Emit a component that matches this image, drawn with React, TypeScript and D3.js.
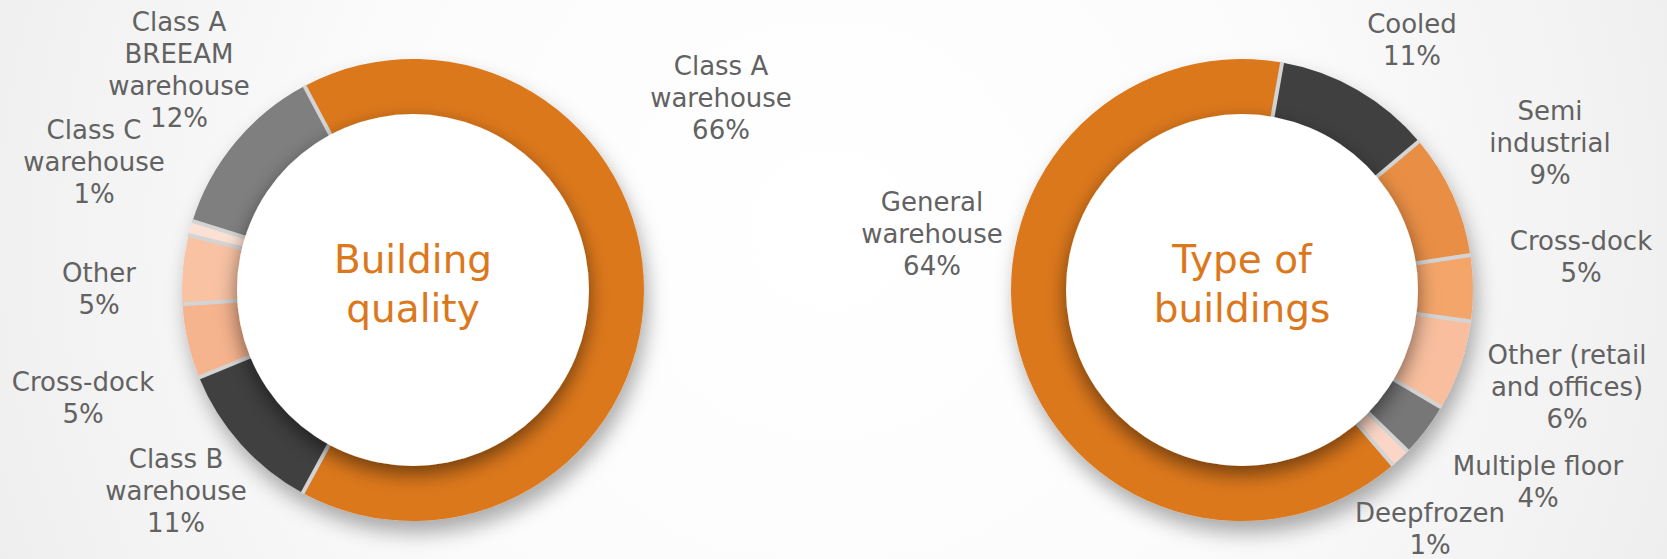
import React from 'react';
import * as d3 from 'd3';

// ---------- DATA ----------
const qualityCategories = ['Class A warehouse', 'Class B warehouse', 'Cross-dock', 'Other', 'Class C warehouse', 'Class A BREEAM warehouse'];
const qualityValues = [65.7, 10.9, 5.2, 4.8, 1.0, 12.4];
const qualityPercentLabels = ['66%', '11%', '5%', '5%', '1%', '12%'];
const qualityNameLines = [['Class A', 'warehouse'], ['Class B', 'warehouse'], ['Cross-dock'], ['Other'], ['Class C', 'warehouse'], ['Class A', 'BREEAM', 'warehouse']];

const typeCategories = ['Cooled', 'Semi industrial', 'Cross-dock', 'Other (retail and offices)', 'Multiple floor', 'Deepfrozen', 'General warehouse'];
const typeValues = [11.1, 8.7, 4.6, 6.3, 3.8, 1.4, 64.1];
const typePercentLabels = ['11%', '9%', '5%', '6%', '4%', '1%', '64%'];
const typeNameLines = [['Cooled'], ['Semi', 'industrial'], ['Cross-dock'], ['Other (retail', 'and offices)'], ['Multiple floor'], ['Deepfrozen'], ['General', 'warehouse']];

// ---------- STYLE / LAYOUT ----------
const W = 1667;
const H = 559;
const R_OUT = 231;
const R_IN = 175;
const LINE_H = 32;
const ORANGE = '#DC781C';
const TEXT = '#626262';
const FONT = "'DejaVu Sans', sans-serif";

const qualityColors = ['#DC781C', '#404040', '#F5B38E', '#F8C2A3', '#FBE1D3', '#7F7F7F'];
const typeColors = ['#404040', '#E98E44', '#F4A56B', '#F8BE9E', '#777777', '#FBD6C6', '#DC781C'];

const qualityLabelPos: [number, number][] = [[721, 75], [176, 468], [83, 391], [99, 282], [94, 139], [179, 31]];
const typeLabelPos: [number, number][] = [[1412, 33], [1550, 120], [1581, 250], [1567, 364], [1538, 475], [1430, 522], [932, 211]];

type DonutProps = {
  id: string;
  cx: number;
  cy: number;
  values: number[];
  colors: string[];
  startDeg: number;
  title: string[];
  names: string[][];
  percents: string[];
  pos: [number, number][];
};

function Donut({ id, cx, cy, values, colors, startDeg, title, names, percents, pos }: DonutProps) {
  const a0 = (startDeg * Math.PI) / 180;
  const pie = d3.pie<number>().sort(null).value((d) => d).startAngle(a0).endAngle(a0 + 2 * Math.PI);
  const arcs = pie(values);
  const arc = d3.arc<d3.PieArcDatum<number>>().innerRadius(R_IN).outerRadius(R_OUT);
  return (
    <g>
      <g transform={`translate(${cx},${cy})`}>
        <g filter={`url(#ringShadow)`}>
          {arcs.map((a, i) => (
            <path key={i} d={arc(a) || ''} fill={colors[i]} />
          ))}
        </g>
        {arcs.map((a, i) => {
          const s = Math.sin(a.startAngle);
          const c = -Math.cos(a.startAngle);
          return (
            <line key={'sep' + i} x1={s * (R_IN - 2)} y1={c * (R_IN - 2)} x2={s * (R_OUT + 0.5)} y2={c * (R_OUT + 0.5)} stroke="#D4D4D4" strokeWidth={4} />
          );
        })}
        <circle r={R_IN + 1} fill="#ffffff" filter="url(#innerShadow)" />
        {title.map((t, i) => (
          <text key={'t' + i} x={0} y={i === 0 ? -17 : 32} textAnchor="middle" fontFamily={FONT} fontSize={39} fill={ORANGE}>
            {t}
          </text>
        ))}
      </g>
      {names.map((lines, i) => {
        const [x, y] = pos[i];
        const all = [...lines, percents[i]];
        return (
          <text key={'l' + i} x={x} y={y} textAnchor="middle" fontFamily={FONT} fontSize={26} fill={TEXT}>
            {all.map((ln, j) => (
              <tspan key={j} x={x} y={y + j * LINE_H}>
                {ln}
              </tspan>
            ))}
          </text>
        );
      })}
    </g>
  );
}

export default function App() {
  return (
    <svg
      width={W}
      height={H}
      viewBox={`0 0 ${W} ${H}`}
      style={{ position: 'absolute', left: 0, top: 0, display: 'block' }}
    >
      <defs>
        <radialGradient id="bg" cx="830" cy="230" r="980" gradientUnits="userSpaceOnUse">
          <stop offset="0" stopColor="#ffffff" />
          <stop offset="0.45" stopColor="#fcfcfc" />
          <stop offset="1" stopColor="#ececec" />
        </radialGradient>
        <filter id="ringShadow" x="-30%" y="-30%" width="160%" height="160%">
          <feDropShadow dx="4" dy="12" stdDeviation="10" floodColor="#000" floodOpacity="0.32" />
        </filter>
        <filter id="innerShadow" x="-30%" y="-30%" width="160%" height="160%">
          <feDropShadow dx="0" dy="8" stdDeviation="10" floodColor="#000" floodOpacity="0.5" />
        </filter>
      </defs>
      <rect x={0} y={0} width={W} height={H} fill="url(#bg)" />
      <Donut
        id="quality"
        cx={413}
        cy={290}
        values={qualityValues}
        colors={qualityColors}
        startDeg={-28}
        title={['Building', 'quality']}
        names={qualityNameLines}
        percents={qualityPercentLabels}
        pos={qualityLabelPos}
      />
      <Donut
        id="type"
        cx={1242}
        cy={290}
        values={typeValues}
        colors={typeColors}
        startDeg={10}
        title={['Type of', 'buildings']}
        names={typeNameLines}
        percents={typePercentLabels}
        pos={typeLabelPos}
      />
    </svg>
  );
}
